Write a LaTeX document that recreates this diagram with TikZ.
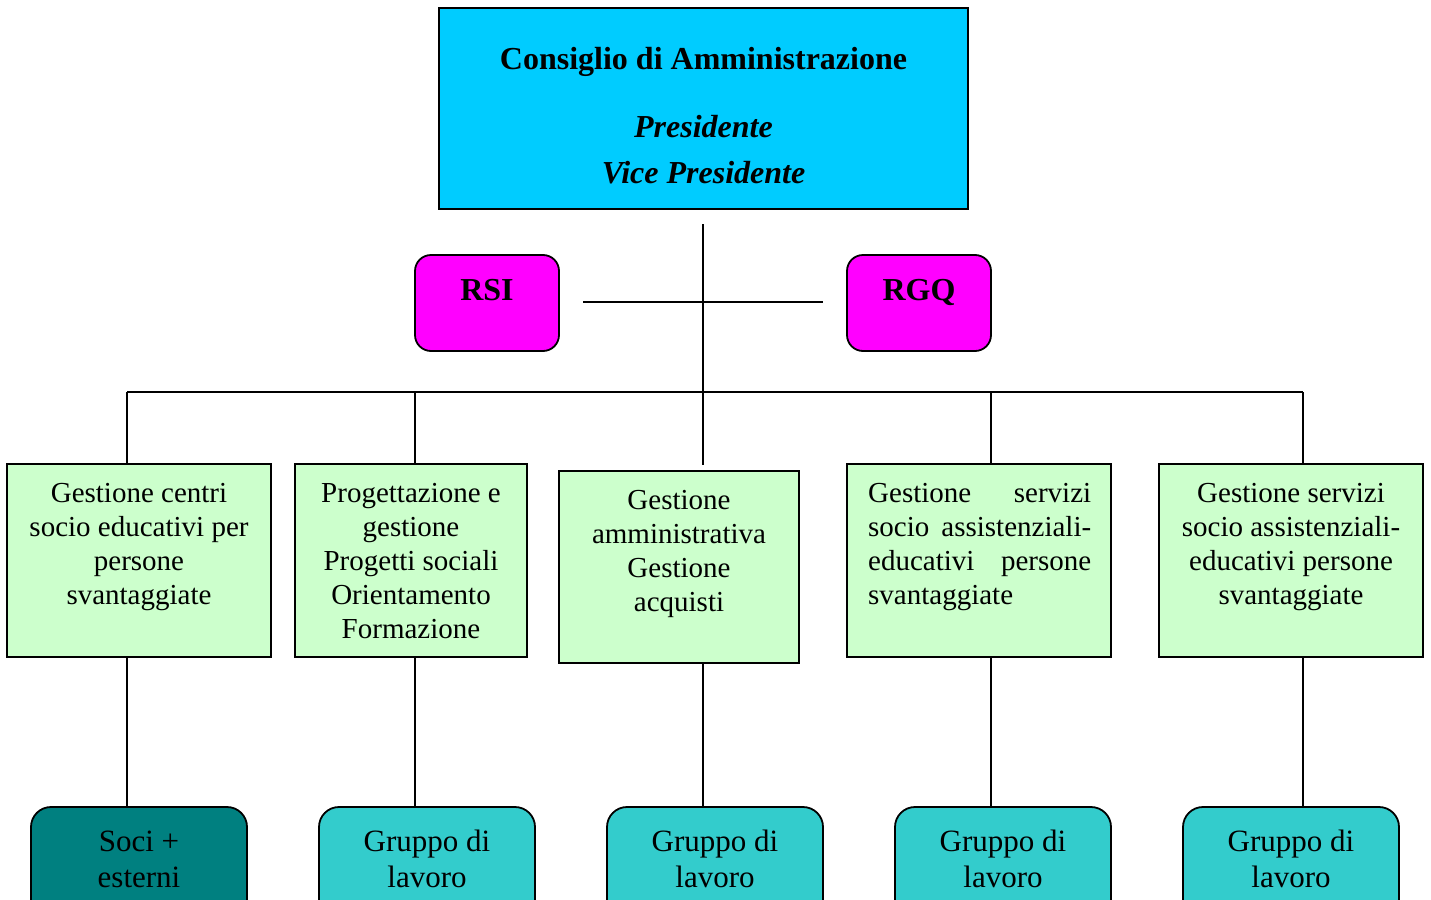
\documentclass[tikz,border=0pt]{standalone}
\usepackage{fontspec}
\setmainfont{Liberation Serif}
\definecolor{cdacyan}{HTML}{00CCFF}
\definecolor{rmag}{HTML}{FF00FF}
\definecolor{lgreen}{HTML}{CCFFCC}
\definecolor{dteal}{HTML}{008080}
\definecolor{turq}{HTML}{33CCCC}
\tikzset{
  conn/.style={line width=1.6pt, black},
  topbox/.style={draw=black, line width=2.2pt, fill=cdacyan, inner sep=0pt, outer sep=0pt},
  rbox/.style={draw=black, line width=1.8pt, fill=rmag, rounded corners=16pt, minimum width=144pt, minimum height=96pt, inner sep=0pt, outer sep=0pt},
  gbox/.style={draw=black, line width=1.8pt, fill=lgreen, minimum height=193pt, inner sep=0pt, outer sep=0pt},
  wbox/.style={draw=black, line width=1.8pt, fill=turq, rounded corners=20pt, minimum width=216pt, minimum height=140pt, inner sep=0pt, outer sep=0pt},
  btitle/.style={font=\fontsize{32}{38}\selectfont\bfseries, inner sep=0pt, anchor=base},
  bital/.style={font=\fontsize{32}{38}\selectfont\bfseries\itshape, inner sep=0pt, anchor=base},
  gtext/.style={font=\fontsize{29}{34}\selectfont, inner sep=0pt, align=center, anchor=base},
  wtext/.style={font=\fontsize{31}{36}\selectfont, inner sep=0pt, align=center, anchor=base},
}
\begin{document}
\begin{tikzpicture}[x=1pt,y=-1pt]
\useasboundingbox (0,0) rectangle (1431,899);
\clip (0,0) rectangle (1431,899);
% top box
\node[topbox, minimum width=529pt, minimum height=201pt] (cda) at (703.5,108.5) {};
\node[btitle] (cdat) at (703.5,70) {Consiglio di Amministrazione};
\node[bital] (pres) at (703.5,137) {Presidente};
\node[bital] (vpres) at (703.5,183) {Vice Presidente};
% RSI / RGQ
\node[rbox] (rsi) at (487,303) {};
\node[btitle] (rsit) at (487,300) {RSI};
\node[rbox] (rgq) at (919,303) {};
\node[btitle] (rgqt) at (919,300) {RGQ};
% green boxes
\node[gbox, minimum width=264pt] (b1) at (139,560.5) {};
\node[gbox, minimum width=232pt] (b2) at (411,560.5) {};
\node[gbox, minimum width=240pt, minimum height=192pt] (b3) at (679,567) {};
\node[gbox, minimum width=264pt] (b4) at (979,560.5) {};
\node[gbox, minimum width=264pt] (b5) at (1291,560.5) {};
% (base anchor = baseline of the last line)
\node[gtext] (b1t) at (139,604) {Gestione centri\\socio educativi per\\persone\\svantaggiate};
\node[gtext] (b2t) at (411,638) {Progettazione e\\gestione\\Progetti sociali\\Orientamento\\Formazione};
\node[gtext] (b3t) at (679,611) {Gestione\\amministrativa\\Gestione\\acquisti};
\node[gtext, align=left, anchor=base west] (b4t) at (868,604) {\makebox[223pt][s]{Gestione\hfill servizi}\\\makebox[223pt][s]{socio assistenziali-}\\\makebox[223pt][s]{educativi\hfill persone}\\svantaggiate};
\node[gtext] (b5t) at (1291,604) {Gestione servizi\\socio assistenziali-\\educativi persone\\svantaggiate};
% bottom boxes
\node[wbox, fill=dteal] (g1) at (139,877) {};
\node[wbox] (g2) at (427,877) {};
\node[wbox] (g3) at (715,877) {};
\node[wbox] (g4) at (1003,877) {};
\node[wbox] (g5) at (1291,877) {};
\node[wtext] (g1t) at (139,887) {Soci +\\esterni};
\node[wtext] (g2t) at (427,887) {Gruppo di\\lavoro};
\node[wtext] (g3t) at (715,887) {Gruppo di\\lavoro};
\node[wtext] (g4t) at (1003,887) {Gruppo di\\lavoro};
\node[wtext] (g5t) at (1291,887) {Gruppo di\\lavoro};
% connectors
\coordinate (vtop) at (703,224);
\coordinate (vbot) at (703,465);
\coordinate (hl) at (583,302);
\coordinate (hr) at (823,302);
\coordinate (j1) at (127,392);
\coordinate (j2) at (415,392);
\coordinate (j3) at (703,392);
\coordinate (j4) at (991,392);
\coordinate (j5) at (1303,392);
\draw[conn] (vtop) -- (vbot);
\draw[conn] (hl) -- (hr);
\draw[conn] (j1) -- (j5);
\draw[conn] (j1) -- (j1 |- b1.north);
\draw[conn] (j2) -- (j2 |- b2.north);
\draw[conn] (j4) -- (j4 |- b4.north);
\draw[conn] (j5) -- (j5 |- b5.north);
\draw[conn] (j1 |- b1.south) -- (j1 |- g1.north);
\draw[conn] (j2 |- b2.south) -- (j2 |- g2.north);
\draw[conn] (j3 |- b3.south) -- (j3 |- g3.north);
\draw[conn] (j4 |- b4.south) -- (j4 |- g4.north);
\draw[conn] (j5 |- b5.south) -- (j5 |- g5.north);
\end{tikzpicture}
\end{document}
